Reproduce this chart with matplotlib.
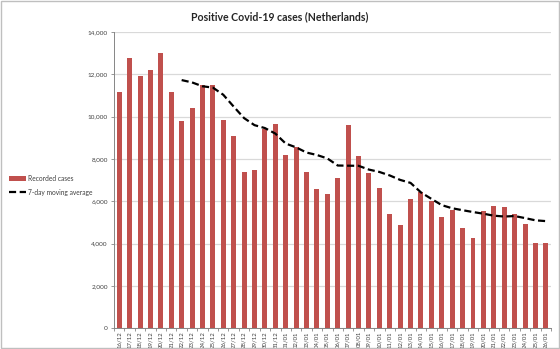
import numpy as np
import matplotlib
matplotlib.use("Agg")
import matplotlib.pyplot as plt
from matplotlib.patches import Patch, Rectangle
from matplotlib.lines import Line2D
from matplotlib.ticker import FuncFormatter, MultipleLocator

plt.rcParams['font.family'] = ['Lato', 'DejaVu Sans']

# daily positive tests, 16 Dec - 26 Jan
dates = ['16/12', '17/12', '18/12', '19/12', '20/12', '21/12', '22/12', '23/12',
         '24/12', '25/12', '26/12', '27/12', '28/12', '29/12', '30/12', '31/12',
         '01/01', '02/01', '03/01', '04/01', '05/01', '06/01', '07/01', '08/01',
         '09/01', '10/01', '11/01', '12/01', '13/01', '14/01', '15/01', '16/01',
         '17/01', '18/01', '19/01', '20/01', '21/01', '22/01', '23/01', '24/01',
         '25/01', '26/01']
cases = [11170, 12770, 11930, 12210, 13030, 11170, 9815, 10400,
         11490, 11490, 9850, 9105, 7375, 7485, 9435, 9675,
         8180, 8585, 7390, 6570, 6350, 7090, 9610, 8145,
         7330, 6620, 5405, 4885, 6100, 6460, 6020, 5250,
         5595, 4755, 4285, 5545, 5795, 5750, 5405, 4915,
         4020, 4020]
# 7-day average, first value on 22/12
avg_start = 6
avg7 = [11728, 11618, 11436, 11373, 11035, 10475, 9932, 9599, 9461, 9202,
        8729, 8549, 8304, 8189, 8027, 7692, 7683, 7678, 7499, 7388,
        7222, 7012, 6870, 6420, 6116, 5819, 5672, 5580, 5494, 5415,
        5321, 5282, 5304, 5208, 5102, 5065]

red = '#C0504D'
grid = '#D9D9D9'
axis_col = '#868686'

fig = plt.figure(figsize=(5.6, 3.49), dpi=100)
ax = fig.add_axes([0.2036, 0.0593, 0.7804, 0.849])

x = np.arange(len(dates))
ax.bar(x, cases, width=0.48, color=red, zorder=2)
ax.plot(x[avg_start:], avg7, color='black', lw=1.6, ls=(0, (3.2, 1.6)), zorder=3)

ax.set_xlim(-0.5, len(dates) - 0.5)
ax.set_ylim(0, 14000)
ax.yaxis.set_major_locator(MultipleLocator(2000))
ax.yaxis.set_major_formatter(FuncFormatter(lambda v, p: f'{v:,.0f}'))
ax.set_xticks(x)
ax.set_xticklabels(dates, rotation=90, fontsize=4.3, color='#404040')
ax.set_xticks(np.arange(-0.5, len(dates), 1), minor=True)
ax.tick_params(axis='x', which='major', length=0, pad=2)
ax.tick_params(axis='x', which='minor', length=2.5, color=axis_col, width=0.6)
ax.tick_params(axis='y', labelsize=4.6, labelcolor='#404040', length=2.5,
               color=axis_col, width=0.6, pad=2)
ax.grid(axis='y', color=grid, lw=0.9, zorder=0)
for s in ['top', 'right']:
    ax.spines[s].set_visible(False)
for s in ['left', 'bottom']:
    ax.spines[s].set_color(axis_col)
    ax.spines[s].set_linewidth(0.7)

fig.text(0.5, 0.953, 'Positive Covid-19 cases (Netherlands)', ha='center', va='center',
         fontsize=7.6, fontweight='bold', color='#262626')

handles = [Patch(facecolor=red, edgecolor='none'),
           Line2D([], [], color='black', lw=1.6, ls=(0, (3.2, 1.6)))]
fig.legend(handles, ['Recorded cases', '7-day moving average'],
           loc='center left', bbox_to_anchor=(0.005, 0.469), frameon=False,
           fontsize=4.8, handlelength=2.6, handletextpad=0.3, labelspacing=1.0,
           labelcolor='#404040')

# outer chart border
fig.patches.append(Rectangle((0.002, 0.003), 0.996, 0.994, transform=fig.transFigure,
                             fill=False, edgecolor='#BFBFBF', lw=1.0))

fig.savefig('out.png', dpi=100)
